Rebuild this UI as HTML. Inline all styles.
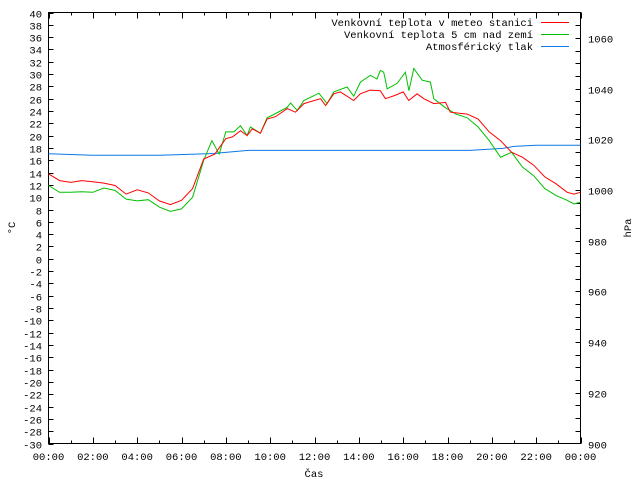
<!DOCTYPE html>
<html><head><meta charset="utf-8"><style>
body{margin:0;background:#fff}
svg{display:block}
text{font-family:"Liberation Mono","DejaVu Sans Mono",monospace;font-size:10.5px;fill:#000}
</style></head><body>
<svg id="chart" width="640" height="480" viewBox="0 0 640 480" xmlns="http://www.w3.org/2000/svg">
<g id="axes"></g>
<g id="series"></g>
<g id="legend"></g>
<text transform="translate(15,228) rotate(-90)" text-anchor="middle">°C</text>
<text transform="translate(631,228) rotate(-90)" text-anchor="middle">hPa</text>
<text x="314" y="477" text-anchor="middle">Čas</text>
</svg>
<script>
const redT=[0,0.5,1,1.5,2,2.5,3,3.5,4,4.5,5,5.5,6,6.5,7,7.5,8,8.3,8.66,8.96,9.19,9.56,9.86,10.25,10.77,11.14,11.52,12.27,12.5,12.87,13.17,13.77,14.07,14.5,14.97,15.2,15.6,16.0,16.25,16.63,16.93,17.38,17.91,18.13,18.89,19.38,19.88,20.39,20.89,21.38,21.89,22.39,22.89,23.4,23.7,24];
const redV=[13.8,12.7,12.4,12.7,12.5,12.3,11.9,10.5,11.2,10.7,9.4,8.8,9.5,11.4,16.2,17.0,19.5,19.8,20.8,20.0,21.1,20.4,22.7,23.1,24.4,23.8,25.2,26.0,24.9,26.8,27.1,25.7,26.8,27.4,27.3,26.0,26.5,27.1,25.7,26.8,26.0,25.2,25.4,23.8,23.5,22.7,20.6,19.2,17.3,16.5,15.2,13.3,12.2,10.8,10.5,10.8];
const greenT=[0,0.5,1,1.5,2,2.5,3,3.5,4,4.5,5,5.5,6,6.5,7,7.37,7.7,8.0,8.36,8.66,8.96,9.11,9.56,9.86,10.25,10.77,10.92,11.22,11.52,12.2,12.57,12.87,13.47,13.77,14.07,14.52,14.82,14.97,15.12,15.28,15.73,16.1,16.26,16.48,16.86,17.23,17.38,17.88,18.38,18.89,19.38,19.88,20.39,20.89,21.38,21.89,22.39,22.89,23.4,23.7,24];
const greenV=[11.9,10.8,10.8,10.9,10.8,11.5,11.1,9.7,9.4,9.6,8.4,7.7,8.1,10.0,16.0,19.2,17.0,20.6,20.6,21.6,20.0,21.4,20.4,22.9,23.6,24.6,25.3,24.1,25.7,26.9,25.2,27.1,27.9,26.4,28.7,29.8,29.2,30.6,30.3,27.6,28.5,30.3,27.3,30.9,29.0,28.7,26.0,24.6,23.5,22.9,21.4,19.2,16.5,17.3,14.9,13.5,11.4,10.3,9.5,8.9,9.2];
const presT=[0,2,5,7.5,7.8,9,19,20.5,21,22,24];
const presV=[1014.3,1013.7,1013.7,1014.4,1014.7,1015.6,1015.6,1016.4,1017.2,1017.6,1017.6];
const yTicks=[-30,-28,-26,-24,-22,-20,-18,-16,-14,-12,-10,-8,-6,-4,-2,0,2,4,6,8,10,12,14,16,18,20,22,24,26,28,30,32,34,36,38,40];
const y2Labels=[900,920,940,960,980,1000,1020,1040,1060];
const xLabels=["00:00","02:00","04:00","06:00","08:00","10:00","12:00","14:00","16:00","18:00","20:00","22:00","00:00"];
const legendNames=["Venkovní teplota v meteo stanici","Venkovní teplota 5 cm nad zemí","Atmosférický tlak"];

const L=48.5,R=580.5,T=12.5,B=443.5;
const xs=h=>L+(R-L)*h/24;
const ys=v=>B-(B-T)*(v+30)/70;
const ps=p=>B-(B-T)*(p-900)/170;
const NS="http://www.w3.org/2000/svg";
function mk(tag,attrs,parent){const e=document.createElementNS(NS,tag);for(const k in attrs)e.setAttribute(k,attrs[k]);parent.appendChild(e);return e;}
const ax=document.getElementById('axes');
const fr=mk('rect',{x:L,y:T,width:R-L,height:B-T,fill:'none',stroke:'#000','stroke-width':1},ax);


yTicks.forEach(v=>{const y=Math.round(ys(v))+0.5;
 const t=mk('line',{x1:L,x2:L+5,y1:y,y2:y,stroke:'#000'},ax);
 
 
 const tx=mk('text',{x:42,y:y+4,'text-anchor':'end'},ax);tx.textContent=v;
 
 });
for(let p=905;p<=1065;p+=5){const y=Math.round(ps(p))+0.5;
 const t=mk('line',{x1:R-5,x2:R,y1:y,y2:y,stroke:'#000'},ax);
 
 }
y2Labels.forEach(p=>{const y=Math.round(ps(p))+0.5;
 const tx=mk('text',{x:588,y:y+4},ax);tx.textContent=p;
 
 });
for(let h=0;h<=24;h++){const x=Math.round(xs(h))+0.5;const len=h%2?3:6;
 const t1=mk('line',{x1:x,x2:x,y1:B,y2:B-len,stroke:'#000'},ax);
 
 
 const t2=mk('line',{x1:x,x2:x,y1:T,y2:T+len,stroke:'#000'},ax);
 
 }
xLabels.forEach((s,i)=>{const tx=mk('text',{x:xs(i*2),y:460,'text-anchor':'middle'},ax);tx.textContent=s;
 
 });
const sg=document.getElementById('series');
function line(ts,vs,sc,color,name){const pts=ts.map((t,i)=>xs(t).toFixed(1)+','+sc(vs[i]).toFixed(1)).join(' ');
 const pl=mk('polyline',{points:pts,fill:'none',stroke:color,'stroke-width':1},sg);
 
 }
line(presT,presV,ps,'#0a78e6','pressure-line');
line(greenT,greenV,ys,'#00c000','ground-temp-line');
line(redT,redV,ys,'#ff0000','station-temp-line');
const lg=document.getElementById('legend');
const cols=['#ff0000','#00c000','#0a78e6'];
legendNames.forEach((n,i)=>{const y=22+i*12;
 const tx=mk('text',{x:533,y:y+4,'text-anchor':'end'},lg);tx.textContent=n;
 
 
 const ln=mk('line',{x1:541,x2:569,y1:y+0.5,y2:y+0.5,stroke:cols[i]},lg);
 
 });
</script>
</body></html>
